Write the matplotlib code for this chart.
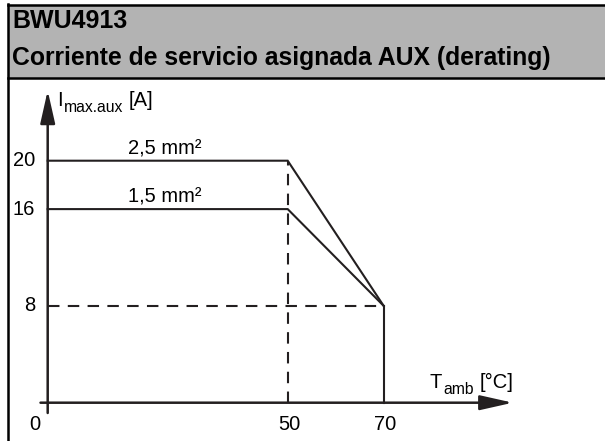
import matplotlib.pyplot as plt
from matplotlib.patches import Rectangle

plt.rcParams['font.family'] = ['Liberation Sans', 'DejaVu Sans']

# data
temps = [0, 50, 70]
i_25 = [20, 20, 8]
i_15 = [16, 16, 8]
curve_labels = ['2,5 mm²', '1,5 mm²']
x_ticks = [0, 50, 70]
y_ticks = [8, 16, 20]
title1 = 'BWU4913'
title2 = 'Corriente de servicio asignada AUX (derating)'

W, H = 605, 441
dark = '#231f20'

fig = plt.figure(figsize=(W / 100, H / 100), dpi=100)
ax = fig.add_axes([0, 0, 1, 1])
# pixel mapping: x = 47.7 + 4.8*v, y(top) = 402.7 - 12.1*v
ax.set_xlim(-47.7 / 4.8, (W - 47.7) / 4.8)
ax.set_ylim((402.7 - H) / 12.1, 402.7 / 12.1)
ax.axis('off')
rend = fig.canvas.get_renderer()

# header box
fig.patches.append(Rectangle((8 / W, (H - 78) / H), 1, 73 / H, transform=fig.transFigure,
                             facecolor='#b3b3b3', edgecolor='none', zorder=0))
fig.add_artist(plt.Line2D([8 / W, 1], [(H - 5.2) / H] * 2, transform=fig.transFigure, color='black', lw=1.8))
fig.add_artist(plt.Line2D([8 / W, 1], [(H - 78.2) / H] * 2, transform=fig.transFigure, color='black', lw=1.8))
fig.add_artist(plt.Line2D([8.2 / W] * 2, [0, (H - 4.3) / H], transform=fig.transFigure, color='black', lw=1.8))
fig.text(12 / W, (H - 28) / H, title1, fontsize=18, fontweight='bold', va='baseline')
fig.text(12 / W, (H - 65) / H, title2, fontsize=17.8, fontweight='bold', va='baseline')

# reference lines
ax.plot([0, temps[2]], [i_25[2], i_25[2]], color=dark, lw=1.5, dashes=(5.5, 4))
ax.plot([temps[1], temps[1]], [0, i_25[1]], color=dark, lw=1.5, dashes=(5.5, 4))
ax.plot([temps[2], temps[2]], [0, i_25[2]], color=dark, lw=1.5)

# curves
ax.plot(temps, i_25, color=dark, lw=1.5, solid_joinstyle='miter')
ax.plot(temps, i_15, color=dark, lw=1.5, solid_joinstyle='miter')
ax.text(16.7, i_25[0] + 0.55, curve_labels[0], fontsize=14.5, va='baseline')
ax.text(16.7, i_15[0] + 0.55, curve_labels[1], fontsize=14.5, va='baseline')

# axes with arrows
arr = dict(arrowstyle='-|>,head_length=2.0,head_width=0.45', lw=1.8, color=dark,
           mutation_scale=10, shrinkA=0, shrinkB=0)
ax.annotate('', xy=(96.9, 0), xytext=(-1.5, 0), arrowprops=arr)
ax.annotate('', xy=(0, 25.8), xytext=(0, -0.85), arrowprops=arr)

for t in x_ticks:
    ax.text(t + (-2.65 if t == 0 else 0.3), -1.84, str(t), fontsize=14.5, ha='center', va='center')
for v in y_ticks:
    ax.text(-2.6, v, str(v), fontsize=14.5, ha='right', va='center')


def sub_label(x, y, main, sub, tail, size=14.5):
    # main letter, subscript, then unit, placed one after another
    t = ax.text(x, y, main, fontsize=size, va='baseline')
    w = t.get_window_extent(rend).width
    s = ax.annotate(sub, (x, y), xytext=(w + 1, -6), textcoords='offset pixels',
                    fontsize=size * 0.78, va='baseline')
    w2 = s.get_window_extent(rend).width
    ax.annotate(tail, (x, y), xytext=(w + w2 + 7, 0), textcoords='offset pixels',
                fontsize=size, va='baseline')


sub_label(1.9, 24.5, 'I', 'max.aux', '[A]')
sub_label(79.6, 1.21, 'T', 'amb', '[°C]')

fig.savefig('out.png', dpi=100)
